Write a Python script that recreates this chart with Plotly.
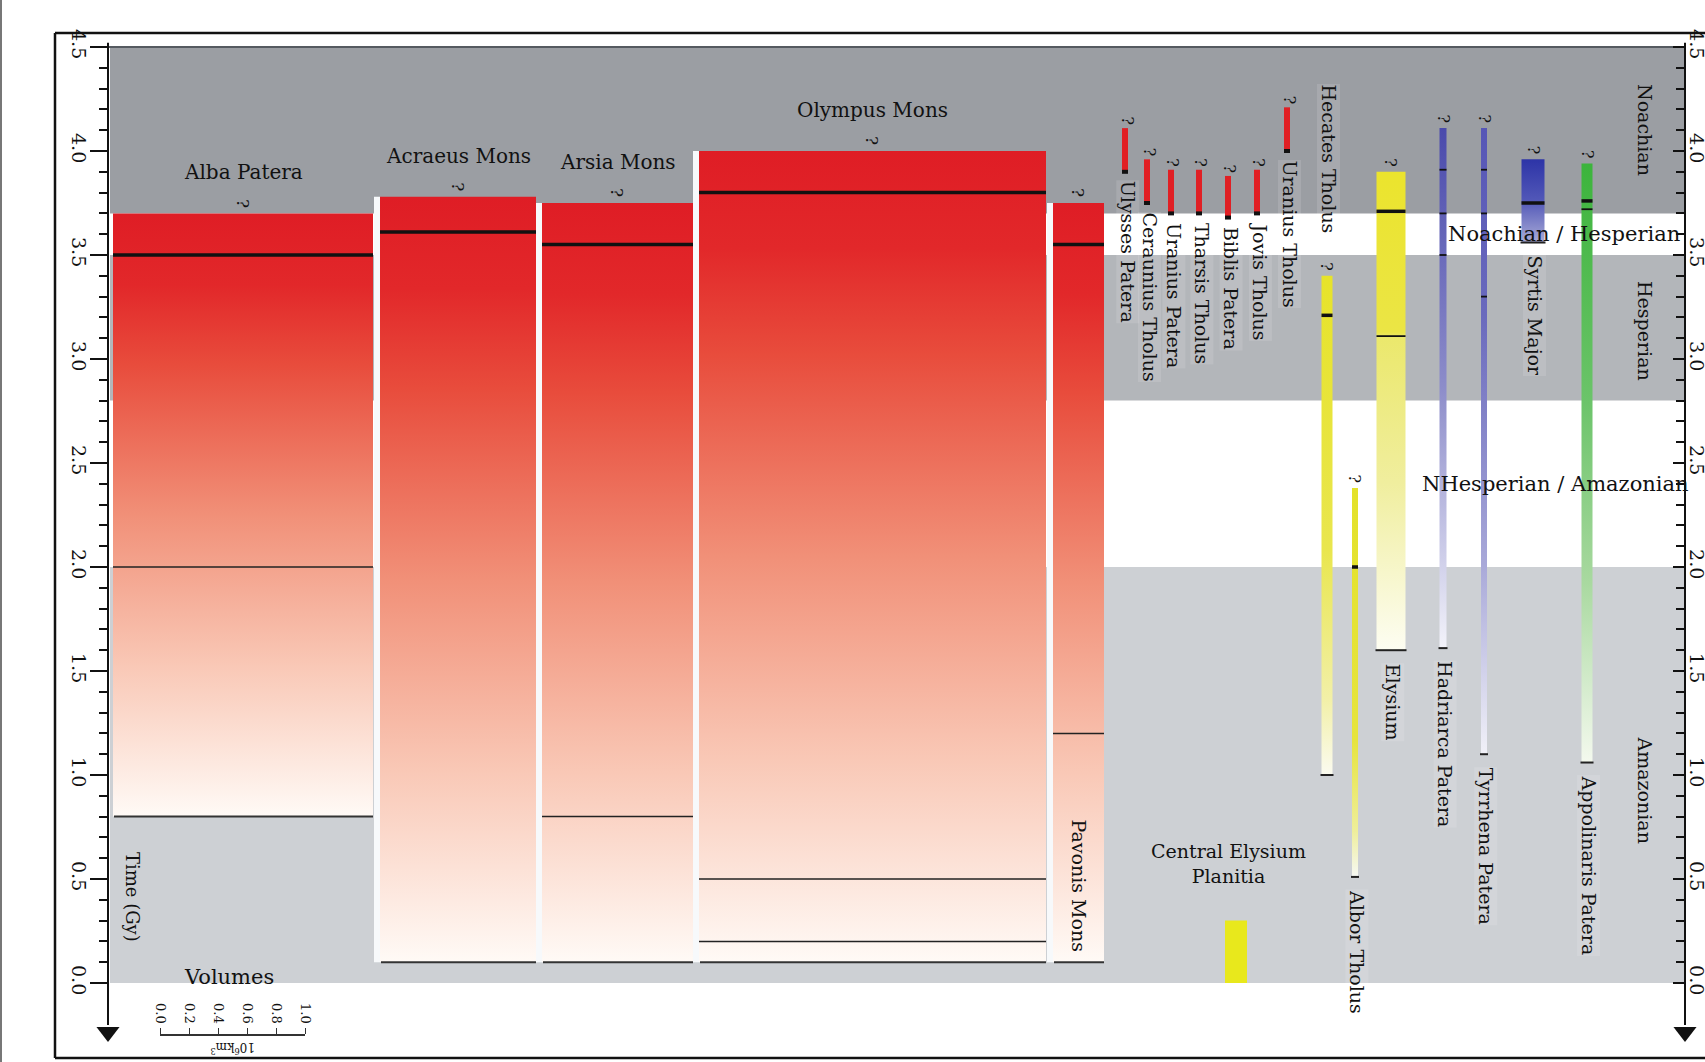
import plotly.graph_objects as go

# ---------------- data: ages in Gy before present ----------------
# geological periods and transition intervals
era_names = ["Noachian", "Hesperian", "Amazonian"]
era_old = [4.5, 3.5, 2.0]
era_young = [3.7, 2.8, 0.0]
transition_names = ["Noachian / Hesperian", "NHesperian / Amazonian"]
transition_old = [3.7, 2.8]
transition_young = [3.5, 2.0]

# large Tharsis shields
shield_names = ["Alba Patera", "Acraeus Mons", "Arsia Mons", "Olympus Mons", "Pavonis Mons"]
shield_onset = [3.70, 3.78, 3.75, 4.00, 3.75]
shield_end = [0.80, 0.10, 0.10, 0.10, 0.10]
shield_main_age = [3.50, 3.61, 3.55, 3.80, 3.55]
shield_later_ages = [[2.0], [], [0.8], [0.5, 0.2], [1.2]]

# small Tharsis edifices
small_names = ["Ulysses Patera", "Ceraunius Tholus", "Uranius Patera", "Tharsis Tholus",
               "Biblis Patera", "Jovis Tholus", "Uranius Tholus"]
small_onset = [4.11, 3.96, 3.91, 3.91, 3.88, 3.91, 4.21]
small_end = [3.90, 3.75, 3.70, 3.70, 3.68, 3.70, 4.00]

# Elysium and highland volcanoes
province_names = ["Hecates Tholus", "Albor Tholus", "Elysium", "Hadriarca Patera",
                  "Tyrrhena Patera", "Syrtis Major", "Appolinaris Patera"]
province_onset = [3.40, 2.38, 3.90, 4.11, 4.11, 3.96, 3.94]
province_end = [1.00, 0.51, 1.60, 1.61, 1.10, 3.56, 1.06]
province_main_age = [3.21, 2.00, 3.71, None, None, 3.75, 3.76]
province_other_ages = [[], [], [3.11], [3.91, 3.70, 3.50], [3.91, 3.70, 3.30], [], [3.72]]

plains_name = "Central Elysium<br>Planitia"
plains_onset = 0.30
plains_end = 0.0

time_ticks = [0.0, 0.5, 1.0, 1.5, 2.0, 2.5, 3.0, 3.5, 4.0, 4.5]
volume_ticks = [0.0, 0.2, 0.4, 0.6, 0.8, 1.0]

# ---------------- layout / styling ----------------
W, H = 1705, 1062
ROW0, PX_PER_GY = 983, 208          # pixel row of 0 Gy, pixels per Gy


def t_at(row):
    return (ROW0 - row) / PX_PER_GY


def paper_y(row):
    return 1 - row / H


FONT = "DejaVu Serif"
INK = "#111111"
X_LEFT_AXIS, X_RIGHT_AXIS = 108, 1685

era_colors = ["#9b9ea3", "#b3b6ba", "#cdd0d4"]

shield_x = [(113, 373), (380, 536), (542, 693), (699, 1046), (1053, 1104)]
small_x = [1125, 1147, 1171, 1199, 1228, 1257, 1287]
small_w = 6
province_x = [1327, 1355, 1391, 1443, 1484, 1533, 1587]
province_w = [11, 6, 29, 7, 6, 23, 11]
plains_x, plains_w = 1236, 22

RED = [[0, "#fffaf6"], [0.25, "#f9c8b6"], [0.5, "#f19078"], [0.75, "#e84c3c"],
       [0.88, "#e2282a"], [1, "#df1d25"]]
HECATES = [[0, "#fbfbf0"], [0.15, "#f2f0a8"], [0.45, "#e9e64e"], [1, "#e7e32a"]]
ALBOR = [[0, "#f6f8f4"], [0.12, "#eeee9a"], [0.35, "#e6e43e"], [1, "#e4e22a"]]
ELYSIUM = [[0, "#fdfdf2"], [0.35, "#f0ee9e"], [0.655, "#ebe86c"], [0.665, "#ebe545"],
           [1, "#ebe42d"]]
BLUE = [[0, "#f3f3fa"], [0.2, "#c9c9e7"], [0.5, "#8d8dca"], [1, "#4a4aac"]]
BLUE2 = [[0, "#f1f1f8"], [0.3, "#a9a9d9"], [0.7, "#6a6abd"], [1, "#5656b6"]]
SYRTIS = [[0, "#a9abd7"], [0.5, "#5258b8"], [1, "#2d34a7"]]
GREEN = [[0, "#f4f9ee"], [0.3, "#a9d9a0"], [0.6, "#6cc46a"], [1, "#3cb43c"]]
province_scales = [HECATES, ALBOR, ELYSIUM, BLUE, BLUE2, SYRTIS, GREEN]
# label placement: None -> below the column, number -> top pixel row of the label
province_label_row = [83, None, None, None, None, None, None]

fig = go.Figure()


def column(x0, x1, t0, t1, scale=None, color=None):
    kw = dict(fillgradient=dict(type="vertical", colorscale=scale)) if scale else dict(fillcolor=color)
    fig.add_trace(go.Scatter(x=[x0, x1, x1, x0, x0], y=[t0, t0, t1, t1, t0], mode="lines",
                             fill="toself", line=dict(width=0), hoverinfo="skip",
                             showlegend=False, **kw))


def mark(x0, x1, t, width, color="#111"):
    fig.add_shape(type="line", xref="x", yref="y", x0=x0, x1=x1, y0=t, y1=t,
                  line=dict(color=color, width=width), layer="above")


def label(text, x, y, size=19, angle=90, xanchor="center", yanchor="top",
          xshift=0, yshift=0, bg=None, yref="y"):
    fig.add_annotation(x=x, y=y, xref="x", yref=yref, text=text, showarrow=False,
                       textangle=angle, xanchor=xanchor, yanchor=yanchor,
                       xshift=xshift, yshift=yshift, bgcolor=bg, borderpad=0,
                       font=dict(family=FONT, size=size, color=INK))


# period bands behind everything
for name, old, young, col in zip(era_names, era_old, era_young, era_colors):
    fig.add_shape(type="rect", xref="x", yref="y", x0=X_LEFT_AXIS + 2, x1=X_RIGHT_AXIS,
                  y0=young, y1=old, fillcolor=col, line=dict(width=0), layer="below")
fig.add_shape(type="line", xref="x", yref="y", x0=X_LEFT_AXIS, x1=X_RIGHT_AXIS,
              y0=max(era_old), y1=max(era_old), line=dict(color="#555a60", width=2),
              layer="below")

# outer frame
frame = dict(color="#111", width=2.5)
fig.add_shape(type="line", xref="x", yref="paper", x0=55, x1=W, y0=paper_y(33), y1=paper_y(33), line=frame)
fig.add_shape(type="line", xref="x", yref="paper", x0=55, x1=55, y0=paper_y(33), y1=paper_y(1058), line=frame)
fig.add_shape(type="line", xref="x", yref="paper", x0=55, x1=W, y0=paper_y(1058), y1=paper_y(1058), line=frame)
fig.add_shape(type="line", xref="x", yref="paper", x0=1, x1=1, y0=0, y1=1,
              line=dict(color="#777", width=2))

# axis lines with arrowheads
for xa in (X_LEFT_AXIS, X_RIGHT_AXIS):
    fig.add_shape(type="line", xref="x", yref="y", x0=xa, x1=xa, y0=max(time_ticks) + 0.02,
                  y1=t_at(1025), line=dict(color="#111", width=2), layer="above")
fig.add_trace(go.Scatter(x=[X_LEFT_AXIS], y=[t_at(1032)], mode="markers",
                         marker=dict(symbol="triangle-down", size=20, color="#111"),
                         hoverinfo="skip", showlegend=False))
fig.add_trace(go.Scatter(x=[X_RIGHT_AXIS], y=[t_at(1032)], yaxis="y2", mode="markers",
                         marker=dict(symbol="triangle-down", size=20, color="#111"),
                         hoverinfo="skip", showlegend=False))

# large shields
for i, name in enumerate(shield_names):
    x0, x1 = shield_x[i]
    top, bot = shield_onset[i], shield_end[i]
    if i > 0:
        fig.add_shape(type="rect", xref="x", yref="y", x0=x0 - 6, x1=x0, y0=bot, y1=top,
                      fillcolor="#f7f9fb", line=dict(width=0), layer="below")
    column(x0, x1, bot, top, scale=RED)
    mark(x0, x1, shield_main_age[i], 3.5)
    for t in shield_later_ages[i]:
        mark(x0, x1, t, 1.5, "#222")
    mark(x0 + 1, x1, bot, 2, "#333")
    cx = (x0 + x1) / 2
    if name != "Pavonis Mons":
        label(name, cx, top, size=20, angle=0, yanchor="middle", yshift=41)
    label("?", cx, top, size=17, yanchor="bottom", yshift=5)
label("Pavonis Mons", (shield_x[4][0] + shield_x[4][1]) / 2, t_at(818))

# small Tharsis edifices
for i, name in enumerate(small_names):
    cx = small_x[i]
    column(cx - small_w / 2, cx + small_w / 2, small_end[i], small_onset[i], color="#e01f24")
    mark(cx - small_w / 2, cx + small_w / 2, small_end[i], 4)
    label("?", cx, small_onset[i], size=16, yanchor="bottom", yshift=2, xshift=2)
    label(name, cx, small_end[i], yshift=-8, xshift=3, bg="rgba(255,255,255,0.12)")

# Elysium and highland volcanoes
for i, name in enumerate(province_names):
    cx, w = province_x[i], province_w[i]
    x0, x1 = cx - w / 2, cx + w / 2
    top, bot = province_onset[i], province_end[i]
    column(x0, x1, bot, top, scale=province_scales[i])
    if province_main_age[i] is not None:
        mark(x0, x1, province_main_age[i], 3.5)
    for t in province_other_ages[i]:
        mark(x0, x1, t, 1.8)
    mark(x0 - 1, x1 + 1, bot, 2, "#222")
    label("?", cx, top, size=16, yanchor="bottom", yshift=4)
    if province_label_row[i] is None:
        label(name, cx, bot, yshift=-12, xshift=2, bg="rgba(255,255,255,0.12)")
    else:
        label(name, cx, t_at(province_label_row[i]), xshift=2,
              bg="rgba(255,255,255,0.12)")

# young plains
column(plains_x - plains_w / 2, plains_x + plains_w / 2, plains_end, plains_onset, color="#e8e81c")
label(plains_name, plains_x - 8, plains_onset, size=19, angle=0, yanchor="bottom", yshift=33)

# period names
era_label_rows = [83, 280, 735]
for name, row in zip(era_names, era_label_rows):
    label(name, 1645, t_at(row))
for name, old, young, xr in zip(transition_names, transition_old, transition_young, [1681, 1690]):
    label(name, xr, (old + young) / 2, size=21, angle=0, xanchor="right", yanchor="middle")

label("Time (Gy)", 133, t_at(897), size=18, yanchor="middle")
label("Volumes", 229, t_at(977), size=21, angle=0, yanchor="middle")
label("10<sup>6</sup>km<sup>3</sup>", 233, t_at(1048), size=12, angle=180, yanchor="middle")

# volume scale axis
fig.add_trace(go.Scatter(x=volume_ticks, y=[None] * len(volume_ticks), xaxis="x2", yaxis="y",
                         mode="markers", hoverinfo="skip", showlegend=False))

minor_ticks = [round(i * 0.1, 1) for i in range(46) if i % 5]
yrange = [t_at(H), t_at(0)]
axis_common = dict(range=yrange, showgrid=False, zeroline=False, showline=False,
                   automargin=False,
                   tickvals=time_ticks, ticktext=[f"{v:.1f}" for v in time_ticks],
                   tickangle=90, tickfont=dict(family=FONT, size=19, color=INK),
                   tickwidth=2, tickcolor="#111")

fig.update_layout(
    width=W, height=H, autosize=False,
    margin=dict(l=0, r=0, t=0, b=0, autoexpand=False),
    paper_bgcolor="white", plot_bgcolor="rgba(0,0,0,0)",
    font=dict(family=FONT, color=INK),
    xaxis=dict(range=[0, W], visible=False, domain=[0, 1], automargin=False),
    yaxis=dict(**axis_common, anchor="free", position=X_LEFT_AXIS / W, side="left",
               ticks="outside", ticklen=18, ticklabelstandoff=-5,
               minor=dict(tickmode="array", tickvals=minor_ticks, ticks="outside",
                          ticklen=9, tickwidth=1.5, tickcolor="#111", showgrid=False)),
    yaxis2=dict(**axis_common, overlaying="y", anchor="free", position=X_RIGHT_AXIS / W,
                side="right", ticks="inside", ticklen=12, ticklabelstandoff=0,
                minor=dict(tickmode="array", tickvals=minor_ticks, ticks="inside",
                           ticklen=9, tickwidth=1.5, tickcolor="#111", showgrid=False)),
    xaxis2=dict(domain=[160 / W, 305 / W], range=[0, 1], anchor="free", automargin=False,
                position=paper_y(1035), side="top", ticks="outside", ticklen=6,
                tickwidth=1.2, tickcolor="#333", showline=True, linecolor="#333",
                linewidth=1.5, showgrid=False, zeroline=False,
                tickvals=volume_ticks, ticktext=[f"{v:.1f}" for v in volume_ticks],
                tickangle=90, tickfont=dict(family=FONT, size=13, color=INK)),
)

fig.write_html("out.html")
